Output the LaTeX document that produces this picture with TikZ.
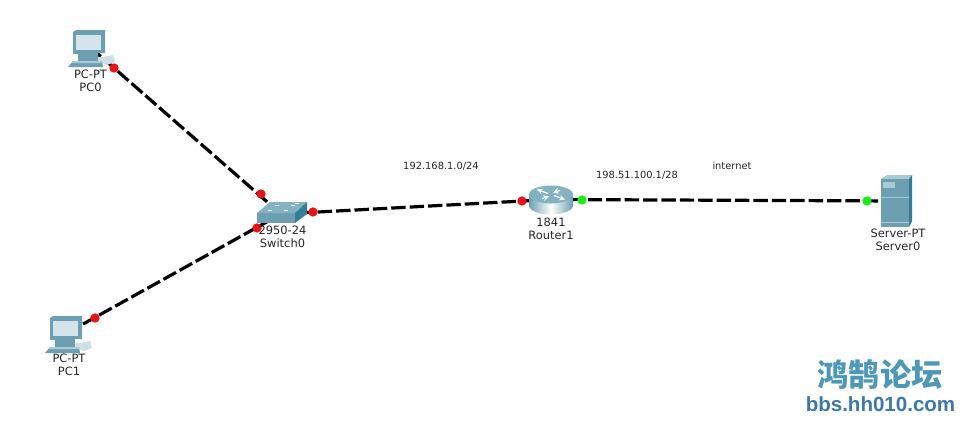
\documentclass[tikz,border=0pt]{standalone}
\usepackage{fontspec}
\setmainfont{DejaVu Sans}
\newfontfamily\cjkfont{Noto Sans CJK SC Black}
\newfontfamily\urlfont{Liberation Sans}
\usetikzlibrary{backgrounds}
\begin{document}
\begin{tikzpicture}[x=0.75pt, y=-0.75pt,
	%Look of the cables and their ports
	link/.style={line width=2.4pt, black, dash pattern=on 10.8pt off 3pt},
	port/.style={circle, fill=#1, inner sep=0pt, outer sep=0pt, minimum size=7pt},
	lbl/.style={font=\fontsize{8.6}{9.8}\selectfont, align=center, inner sep=0pt, text=black!85},
	note/.style={font=\fontsize{7.4}{9.8}\selectfont, inner sep=0pt, text=black!85},
	device/.style={inner sep=0pt, outer sep=0pt, minimum size=1pt},
	%Icons, drawn around their centre
	pc/.pic={
		\fill[bodylight!60!white] (-9,10) -- (13,10) -- (23,8) -- (25,15) -- (17,18) -- (8,14) -- cycle;
		\fill[bodymid] (-17,-15) -- (-14,-17) -- (15,-17) -- (15,6) -- (-17,7) -- cycle;
		\fill[bodymid] (-12,6) -- (8,6) -- (8,14) -- (-12,14) -- cycle;
		\fill[bodymid] (-17,14) -- (12,14) -- (13,20) -- (-22,20) -- cycle;
		\fill[bodylight] (-17,14) -- (12,14) -- (12,16) -- (-18,16) -- cycle;
		\fill[screen] (-14,-12) rectangle (11,3);
	},
	switchbox/.pic={
		\fill[bodymid] (-24,-1) rectangle (14,9);
		\fill[bodytop] (-24,-1) -- (-11,-12) -- (26,-12) -- (14,-1) -- cycle;
		\fill[bodyside] (14,-1) -- (26,-12) -- (26,0) -- (14,9) -- cycle;
		\foreach \lx/\ly in {-11/-3,-4/-8,5/-3,12/-8,16/-10}
		\fill[white] (\lx-2,\ly-1) rectangle (\lx+2,\ly);
	},
	routerbox/.pic={
		\path[left color=bodymid, right color=bodymid, middle color=white]
		(-22,-5) -- (-22,6) arc[start angle=180, end angle=0, x radius=22, y radius=9] -- (22,-5) -- cycle;
		\fill[bodytop] (0,-5) ellipse[x radius=22, y radius=9];
		\draw[white, line width=0.9pt, ->, >=stealth] (-3,-6) -- (-14,-10);
		\draw[white, line width=0.9pt, ->, >=stealth] (3,-4) -- (14,0);
		\draw[white, line width=0.9pt, ->, >=stealth] (-9,-1) -- (-2,-3);
		\draw[white, line width=0.9pt, ->, >=stealth] (9,-9) -- (2,-7);
	},
	serverbox/.pic={
		\fill[bodylight] (-16,-22) -- (-10,-26) -- (15,-26) -- (12,-22) -- cycle;
		\fill[bodyside] (12,-22) -- (15,-26) -- (15,20) -- (12,26) -- cycle;
		\fill[bodymid] (-16,-22) rectangle (12,26);
		\fill[bodylight] (-14,-19) rectangle (-2,-13);
		\draw[bodylight, line width=0.5pt] (-16,-4) -- (12,-4) (-16,21) -- (12,21);
	},
	]
	% Colors
	\definecolor{bodymid}{HTML}{6C9FB2}
	\definecolor{bodytop}{HTML}{83B2C2}
	\definecolor{bodylight}{HTML}{A9CBD6}
	\definecolor{bodyside}{HTML}{2F7F97}
	\definecolor{screen}{HTML}{D5E4EA}
	\definecolor{portred}{HTML}{F00F14}
	\definecolor{portgreen}{HTML}{14F014}
	\definecolor{wmteal}{HTML}{4C98B8}
	\definecolor{wmblue}{HTML}{3B79AC}
	
	% Frame
	\useasboundingbox (0,0) rectangle (972,432);
	
	% Devices
	\node[device] (PC0) at (90,47) {};
	\node[device] (PC1) at (67,333) {};
	\node[device] (Switch0) at (281,214) {};
	\node[device] (Router1) at (551,199.5) {};
	\node[device] (Server0) at (897,201) {};
	
	\pic at (PC0) {pc};
	\pic at (PC1) {pc};
	\pic at (Switch0) {switchbox};
	\pic at (Router1) {routerbox};
	\pic at (Server0) {serverbox};
	
	% Cables stay behind the icons
	\begin{scope}[on background layer]
	\fill[white] (0,0) rectangle (972,432);
	\draw[link] (PC0.center) -- (Switch0.center);
	\draw[link] (PC1.center) -- (Switch0.center);
	\draw[link] (Switch0.center) -- (Router1.center);
	\draw[link] (Router1.center) -- (Server0.center);
	\end{scope}
	
	% Ports
	\node[port=portred] (PC0port) at (114,68) {};
	\node[port=portred] (SwitchportA) at (261,194) {};
	\node[port=portred] (PC1port) at (95,318) {};
	\node[port=portred] (SwitchportB) at (257,228) {};
	\node[port=portred] (SwitchportC) at (313,212) {};
	\node[port=portred] (RouterportA) at (522,201) {};
	\node[port=portgreen] (RouterportB) at (582,200) {};
	\node[port=portgreen] (Serverport) at (867,201) {};
	
	% Device names
	\node[lbl] (PC0name) at (90.5,80.5) {PC-PT\\PC0};
	\node[lbl] (PC1name) at (69,364.5) {PC-PT\\PC1};
	\node[lbl] (Switch0name) at (282.5,237) {2950-24\\Switch0};
	\node[lbl] (Router1name) at (551,228.5) {1841\\Router1};
	\node[lbl] (Server0name) at (898,239.5) {Server-PT\\Server0};
	
	% Notes over the cables
	\node[note] (lan) at (441,166) {192.168.1.0/24};
	\node[note] (wan) at (637,175) {198.51.100.1/28};
	\node[note] (inet) at (732,166) {internet};
	
	% Forum mark
	\node[inner sep=0pt, text=wmteal, font=\cjkfont\fontsize{23.4}{23}\selectfont] (markname) at (880,375) {鸿鹄论坛};
	\node[inner sep=0pt, text=wmblue, font=\urlfont\bfseries\fontsize{15.4}{16}\selectfont] (markurl) at (880.5,404) {bbs.hh010.com};
\end{tikzpicture}
\end{document}
